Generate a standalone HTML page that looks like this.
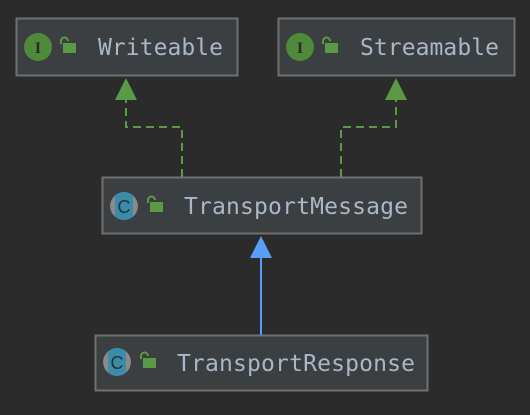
<!DOCTYPE html>
<html><head><style>
html,body{margin:0;padding:0;background:#2b2b2b;}
body{width:530px;height:410px;position:relative;overflow:hidden;}
.t{font-family:"DejaVu Sans Mono","Liberation Mono",monospace;font-size:23px;fill:#a9b7c6;}
</style></head><body>
<svg width="530" height="410" xmlns="http://www.w3.org/2000/svg">
<defs>
<clipPath id="c1"><circle cx="124" cy="206" r="14"/></clipPath>
<clipPath id="c2"><circle cx="117" cy="362" r="14"/></clipPath>
</defs>
<rect width="530" height="410" fill="#2b2b2b"/>
<rect x="16.5" y="18.5" width="221" height="57" fill="#3c3f41" stroke="#707070" stroke-width="2"/>
<rect x="278.5" y="18.5" width="236" height="57" fill="#3c3f41" stroke="#707070" stroke-width="2"/>
<rect x="102.5" y="177.5" width="319" height="56" fill="#3c3f41" stroke="#707070" stroke-width="2"/>
<rect x="95.5" y="335.5" width="332" height="55" fill="#3c3f41" stroke="#707070" stroke-width="2"/>
<path d="M182 177 V127 H126 V100" fill="none" stroke="#5a9a46" stroke-width="2" stroke-dasharray="8,5"/>
<path d="M341 177 V127 H396 V100" fill="none" stroke="#5a9a46" stroke-width="2" stroke-dasharray="8,5"/>
<polygon points="126,78 115,100 137,100" fill="#5a9a46"/>
<polygon points="396,78 385,100 407,100" fill="#5a9a46"/>
<line x1="261" y1="256" x2="261" y2="335" stroke="#589df6" stroke-width="2"/>
<polygon points="261,236 250,258 272,258" fill="#589df6"/>
<circle cx="38" cy="47" r="14" fill="#4f8a3a"/>
<text x="38" y="53" text-anchor="middle" font-family="Liberation Serif,serif" font-size="16" font-weight="bold" fill="#2b2b2b">I</text>
<circle cx="300" cy="47" r="14" fill="#4f8a3a"/>
<text x="300" y="53" text-anchor="middle" font-family="Liberation Serif,serif" font-size="16" font-weight="bold" fill="#2b2b2b">I</text>
<g clip-path="url(#c1)"><circle cx="124" cy="206" r="14" fill="#8a8a8a"/><rect x="115" y="190" width="18" height="32" fill="#3a8ca8"/></g>
<text x="124" y="213" text-anchor="middle" font-family="Liberation Sans,sans-serif" font-size="18" fill="#253238">C</text>
<g clip-path="url(#c2)"><circle cx="117" cy="362" r="14" fill="#8a8a8a"/><rect x="108" y="346" width="18" height="32" fill="#3a8ca8"/></g>
<text x="117" y="369" text-anchor="middle" font-family="Liberation Sans,sans-serif" font-size="18" fill="#253238">C</text>
<g fill="#5a9a46" stroke="#5a9a46">
<path d="M61 44 v-3 a3.5 3.5 0 0 1 7 0" fill="none" stroke-width="2"/><rect x="63" y="43" width="13" height="10" stroke="none"/>
<path d="M323 44 v-3 a3.5 3.5 0 0 1 7 0" fill="none" stroke-width="2"/><rect x="325" y="43" width="13" height="10" stroke="none"/>
<path d="M148 203 v-3 a3.5 3.5 0 0 1 7 0" fill="none" stroke-width="2"/><rect x="150" y="202" width="13" height="10" stroke="none"/>
<path d="M141 359 v-3 a3.5 3.5 0 0 1 7 0" fill="none" stroke-width="2"/><rect x="143" y="358" width="13" height="10" stroke="none"/>
</g>
<text class="t" x="98" y="55" textLength="125">Writeable</text>
<text class="t" x="360" y="55" textLength="139">Streamable</text>
<text class="t" x="184" y="214" textLength="224">TransportMessage</text>
<text class="t" x="177" y="371" textLength="238">TransportResponse</text>
</svg>
</body></html>
